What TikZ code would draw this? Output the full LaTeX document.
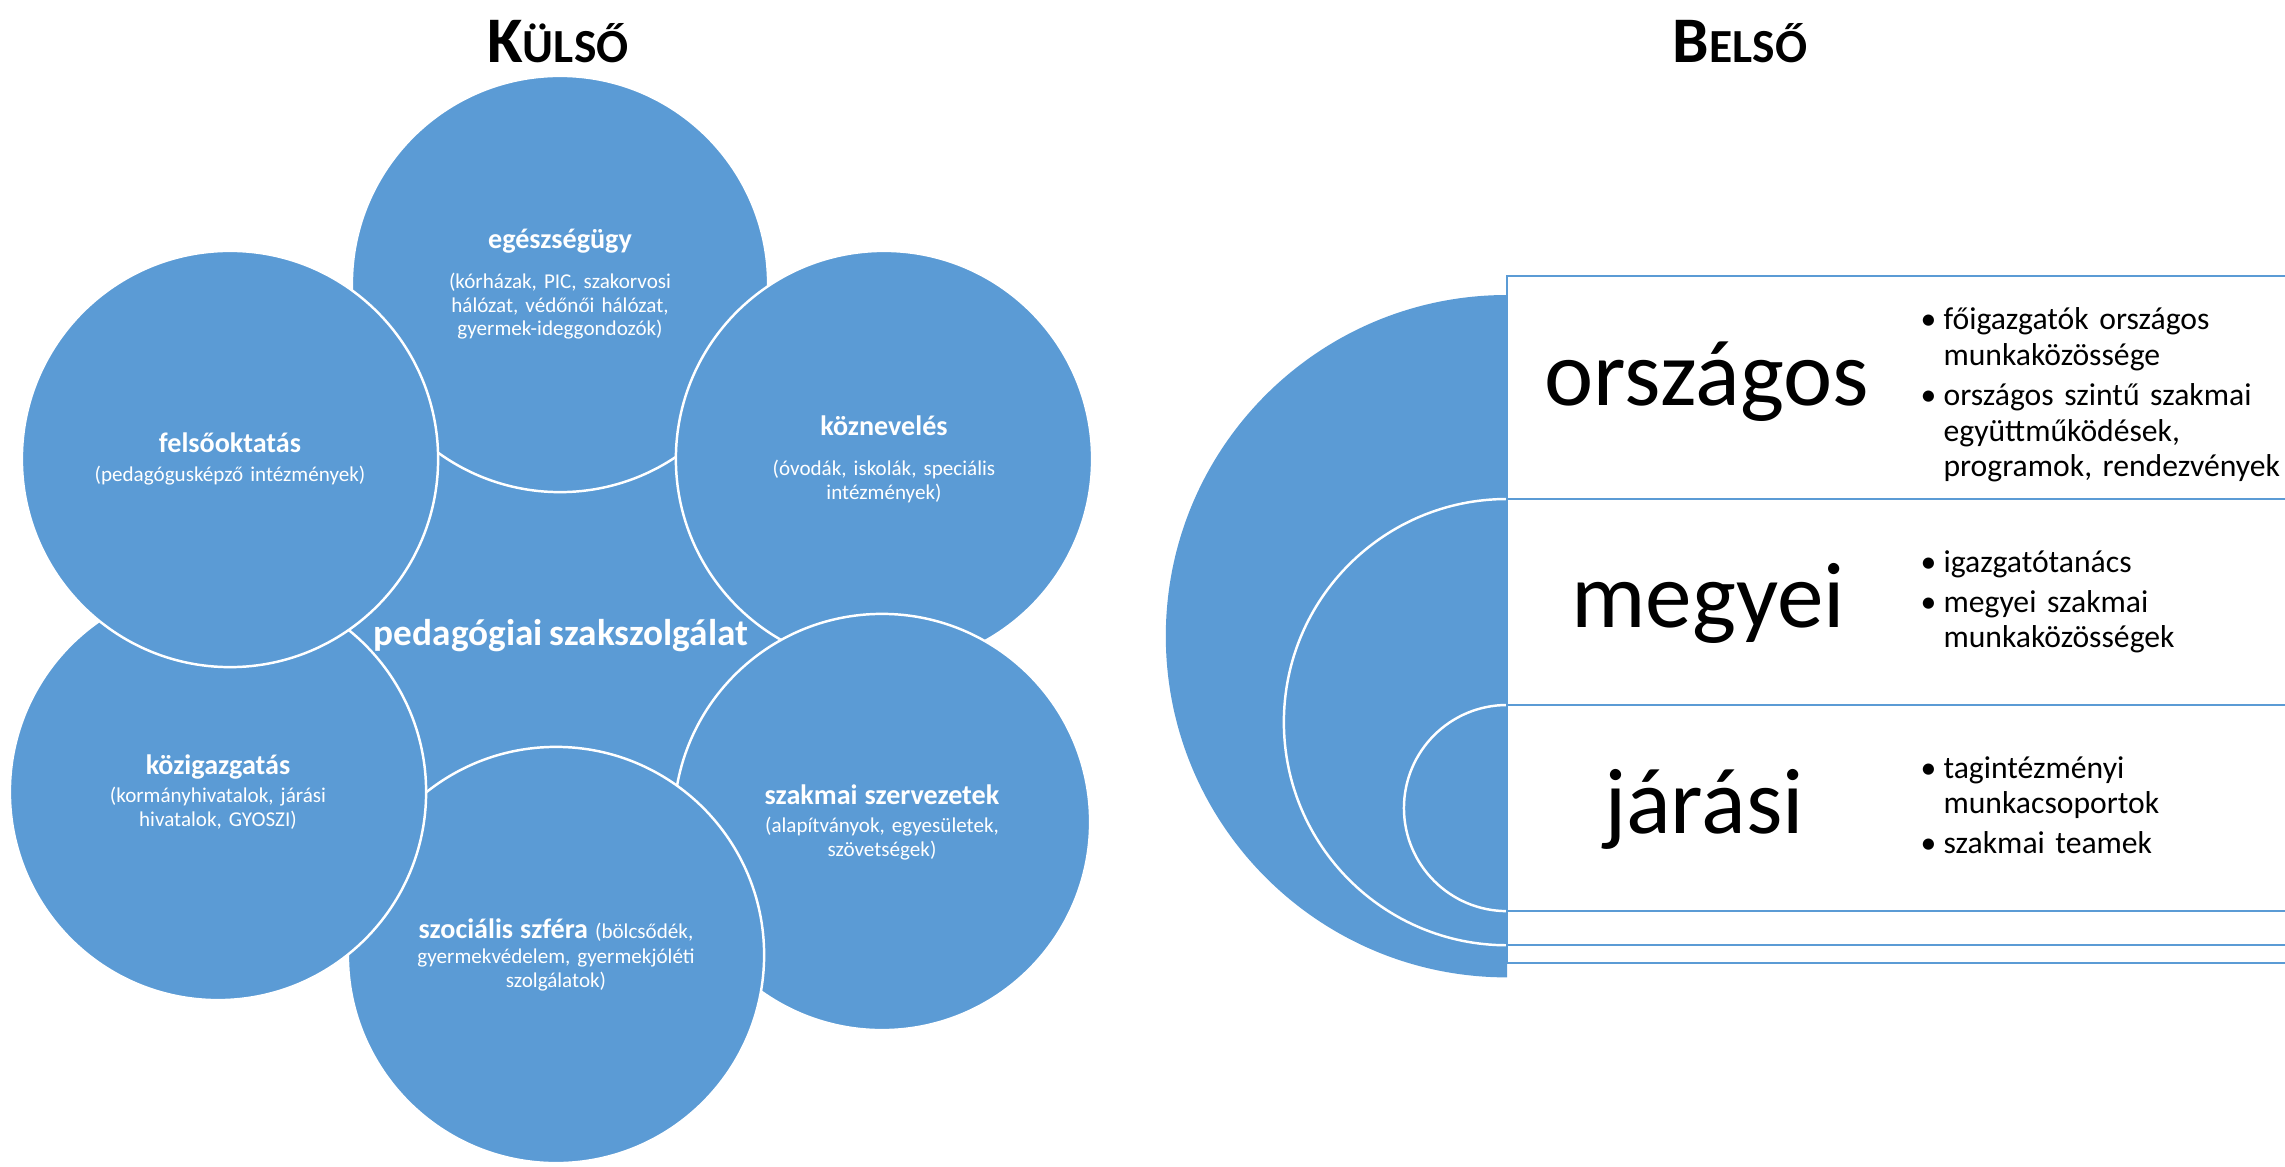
\documentclass[tikz,border=0pt]{standalone}
\usepackage{fontspec}
\setmainfont{Carlito}
\usepackage{xcolor}
\usepackage{tikz}
\definecolor{kek}{HTML}{5B9BD5}

\tikzset{
  kor/.style={circle, fill=kek, draw=white, line width=0.7pt, minimum size=4.16cm, inner sep=0pt,
    text=white, text width=3.6cm, align=center, font=\fontsize{6}{6.7}\selectfont},
  fejlec/.style={anchor=base, inner sep=0pt, font=\bfseries},
  szint/.style={anchor=base, inner sep=0pt, font=\fontsize{26.5}{30}\selectfont},
  pontok/.style={anchor=base west, inner sep=0pt, text width=4cm, align=left, font=\fontsize{9}{10.1}\selectfont},
  doboz/.style={draw=kek, fill=white, line width=0.6pt}
}
\newcommand{\korcim}[1]{{\fontsize{8}{8}\selectfont\bfseries #1}}
\newcommand{\pont}{\makebox[6.5pt][l]{\textbullet}}
\newcommand{\beh}{\hspace*{6.5pt}}

\begin{document}
\begin{tikzpicture}[x=0.01cm, y=-0.01cm]
\useasboundingbox (0,0) rectangle (2285,1167);
\clip (0,0) rectangle (2285,1167);

\node[fejlec] (kulso) at (558,63) {\fontsize{18.5}{20}\selectfont K\fontsize{13.5}{14}\selectfont ÜLSŐ};
\node[fejlec] (belso) at (1740,63) {\fontsize{18.5}{20}\selectfont B\fontsize{13.5}{14}\selectfont ELSŐ};

% kulso kor
\node[kor, draw=none, minimum size=4.9cm, text width=4cm] (pedszak) at (561,636)
  {\fontsize{10.6}{12}\selectfont\bfseries pedagógiai szakszolgálat};
\node[kor] (egeszseg) at (560,284) {\korcim{egészségügy}\\[4.85pt] (kórházak, PIC, szakorvosi\\ hálózat, védőnői hálózat,\\ gyermek-ideggondozók)};
\node[kor] (kozneveles) at (884,459) {\korcim{köznevelés}\\[4.85pt] (óvodák, iskolák, speciális\\ intézmények)};
\node[kor] (szakmai) at (882,822) {\korcim{szakmai szervezetek}\\[1.4pt] (alapítványok, egyesületek,\\ szövetségek)};
\node[kor] (szocialis) at (556,955) {\korcim{szociális szféra} (bölcsődék,\\[0.4pt] gyermekvédelem, gyermekjóléti\\ szolgálatok)};
\node[kor] (kozig) at (218,792) {\korcim{közigazgatás}\\[1.4pt] (kormányhivatalok, járási\\ hivatalok, GYOSZI)};
\node[kor] (felso) at (230,459) {\korcim{felsőoktatás}\\[1.4pt] (pedagógusképző intézmények)};

% belso szintek
\fill[kek] (1507,295) arc[start angle=90, end angle=270, radius=3.41cm] -- cycle;
\path[fill=kek, draw=white, line width=0.7pt] (1507,499) arc[start angle=90, end angle=270, radius=2.23cm];
\path[fill=kek, draw=white, line width=0.7pt] (1507,705) arc[start angle=90, end angle=270, radius=1.03cm];

\draw[doboz] (1507,276) rectangle (2320,963);
\draw[doboz] (1507,499) rectangle (2320,945);
\draw[doboz] (1507,705) rectangle (2320,911);

\node[szint] (orszagos) at (1707,406) {országos};
\node[szint] (megyei) at (1708,627) {megyei};
\node[szint] (jarasi) at (1704,833) {járási};

\node[pontok] (pont1) at (1920,330) {\pont főigazgatók országos\\ \beh munkaközössége\\[1.4pt] \pont országos szintű szakmai\\ \beh együttműködések,\\ \beh programok, rendezvények};
\node[pontok] (pont2) at (1920,572) {\pont igazgatótanács\\[1.4pt] \pont megyei szakmai\\ \beh munkaközösségek};
\node[pontok] (pont3) at (1920,778) {\pont tagintézményi\\ \beh munkacsoportok\\[1.4pt] \pont szakmai teamek};
\end{tikzpicture}
\end{document}
